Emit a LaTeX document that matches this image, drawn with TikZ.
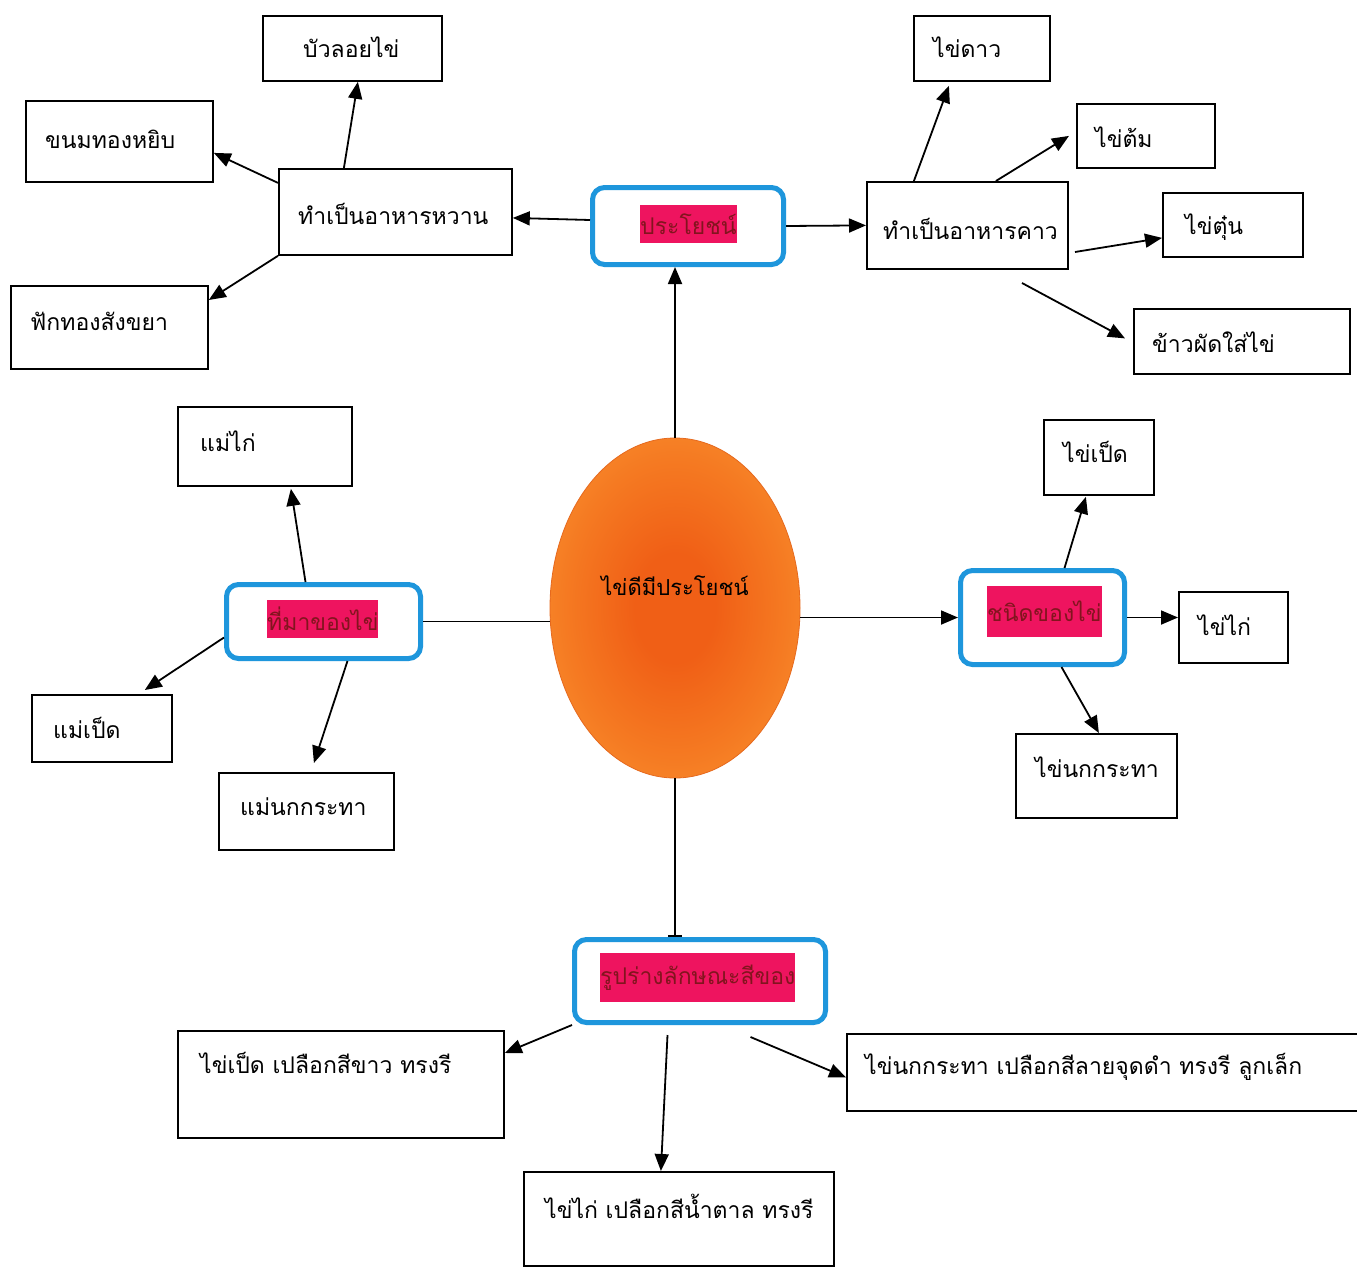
\documentclass[tikz,border=0pt]{standalone}
\usepackage{fontspec}
\newfontfamily\thai[Script=Thai]{Loma}
\usetikzlibrary{arrows.meta,shapes.geometric}
\definecolor{bluebox}{RGB}{30,150,220}
\definecolor{pinkhl}{RGB}{238,20,95}
\definecolor{hltext}{RGB}{130,20,30}
\definecolor{eggin}{RGB}{240,95,22}
\definecolor{eggmid}{RGB}{245,122,34}
\definecolor{eggout}{RGB}{250,152,52}
\definecolor{eggedge}{RGB}{230,105,30}
\pgfdeclareradialshading{eggshade}{\pgfpoint{0bp}{0bp}}{color(0bp)=(eggin); color(8bp)=(eggin); color(22bp)=(eggmid); color(36bp)=(eggout); color(50bp)=(eggout)}
\begin{document}
\begin{tikzpicture}[x=1pt,y=-1pt,
  box/.style={draw=black, line width=1.8pt, anchor=north west, inner sep=0pt},
  txt/.style={anchor=west, inner sep=0pt, font=\thai\fontsize{23}{27}\selectfont},
  hub/.style={draw=bluebox, line width=5pt, rounded corners=12pt, anchor=north west, inner sep=0pt, fill=white},
  hl/.style={fill=pinkhl, anchor=north west, inner sep=0pt, text=hltext, font=\thai\fontsize{23}{27}\selectfont},
  arr/.style={-{Triangle[length=17pt,width=14pt]}, line width=1.8pt},
  link/.style={line width=1.8pt},
  barend/.style={-{Bar[width=14pt,line width=1.8pt]}, line width=1.8pt},
]
\useasboundingbox[fill=white] (0,0) rectangle (1357,1266);

% ---------- centre egg ----------
\node[ellipse, minimum width=250pt, minimum height=340pt, shading=eggshade, draw=eggedge, line width=0.8pt] (egg) at (675,608) {};
\node[txt, anchor=center, font=\thai\fontsize{22}{26}\selectfont] (eggt) at (675,586) {ไข่ดีมีประโยชน์};

% ---------- hubs ----------
\node[hub, minimum width=191pt, minimum height=77pt] (use) at (590,185) {};
\node[hl, minimum width=93pt, minimum height=38pt] (usehl) at (640,205) {ประโยชน์};

\node[hub, minimum width=194pt, minimum height=74pt] (src) at (224,582) {};
\node[hl, minimum width=107pt, minimum height=38pt] (srchl) at (267,600) {ที่มาของไข่};

\node[hub, minimum width=164pt, minimum height=94pt] (kind) at (958,568) {};
\node[hl, minimum width=106pt, minimum height=51pt] (kindhl) at (987,586) {ชนิดของไข่};

\node[hub, minimum width=251pt, minimum height=83pt] (shape) at (572,937) {};
\node[hl, minimum width=195pt, minimum height=49pt] (shapehl) at (600,953) {รูปร่างลักษณะสีของ};

% ---------- benefit branch ----------
\node[box, minimum width=233pt, minimum height=86pt] (wan) at (278,168) {};
\node[txt] (want) at (298,214) {ทำเป็นอาหารหวาน};
\node[box, minimum width=179pt, minimum height=65pt] (bua) at (262,15) {};
\node[txt] (buat) at (303,47) {บัวลอยไข่};
\node[box, minimum width=187pt, minimum height=81pt] (khanom) at (25,100) {};
\node[txt] (khanomt) at (45,139) {ขนมทองหยิบ};
\node[box, minimum width=197pt, minimum height=83pt] (fak) at (10,285) {};
\node[txt] (fakt) at (30,321) {ฟักทองสังขยา};

\node[box, minimum width=201pt, minimum height=87pt] (kaw) at (866,181) {};
\node[txt] (kawt) at (883,229) {ทำเป็นอาหารคาว};
\node[box, minimum width=136pt, minimum height=65pt] (dao) at (913,15) {};
\node[txt] (daot) at (933,47) {ไข่ดาว};
\node[box, minimum width=138pt, minimum height=64pt] (tom) at (1076,103) {};
\node[txt] (tomt) at (1095,137) {ไข่ต้ม};
\node[box, minimum width=140pt, minimum height=64pt] (tun) at (1162,192) {};
\node[txt] (tunt) at (1185,227) {ไข่ตุ๋น};
\node[box, minimum width=216pt, minimum height=65pt] (khaopad) at (1133,308) {};
\node[txt] (khaopadt) at (1152,342) {ข้าวผัดใส่ไข่};

% ---------- source branch ----------
\node[box, minimum width=174pt, minimum height=79pt] (maekai) at (177,406) {};
\node[txt] (maekait) at (200,441) {แม่ไก่};
\node[box, minimum width=140pt, minimum height=67pt] (maepet) at (31,694) {};
\node[txt] (maepett) at (53,728) {แม่เป็ด};
\node[box, minimum width=175pt, minimum height=77pt] (maenok) at (218,772) {};
\node[txt] (maenokt) at (240,807) {แม่นกกระทา};

% ---------- kind branch ----------
\node[box, minimum width=110pt, minimum height=75pt] (kaipet) at (1043,419) {};
\node[txt] (kaipett) at (1063,452) {ไข่เป็ด};
\node[box, minimum width=109pt, minimum height=71pt] (kaikai) at (1178,591) {};
\node[txt] (kaikait) at (1198,625) {ไข่ไก่};
\node[box, minimum width=161pt, minimum height=84pt] (kainok) at (1015,733) {};
\node[txt] (kainokt) at (1035,767) {ไข่นกกระทา};

% ---------- shape branch ----------
\node[box, minimum width=326pt, minimum height=107pt] (b1) at (177,1030) {};
\node[txt] (b1t) at (200,1063) {ไข่เป็ด เปลือกสีขาว ทรงรี};
\node[box, minimum width=310pt, minimum height=94pt] (b2) at (523,1171) {};
\node[txt] (b2t) at (545,1206) {ไข่ไก่ เปลือกสีน้ำตาล ทรงรี};
\node[box, minimum width=515pt, minimum height=77pt] (b3) at (846,1033) {};
\node[txt] (b3t) at (865,1067) {ไข่นกกระทา เปลือกสีลายจุดดำ ทรงรี ลูกเล็ก};

% ---------- free connector starts ----------
\coordinate (kawtun) at (1075,252);
\coordinate (kawpad) at (1022,283);

% ---------- connectors ----------
\draw[arr] (egg.north) -- (egg.north |- use.south);
\draw[arr] ([yshift=6pt]use.west) -- ([yshift=-6pt]wan.east);
\draw[arr] (use.east) -- (kaw.west);

\draw[arr] ([xshift=-51.5pt]wan.north) -- ([xshift=5.5pt]bua.south);
\draw[arr] ([yshift=29pt]wan.west) -- ([yshift=-11.5pt]khanom.east);
\draw[arr] (wan.south west) -- ([yshift=-15pt]fak.north east);

\draw[arr] ([xshift=-53.5pt]kaw.north) -- ([xshift=-33pt,yshift=-4pt]dao.south);
\draw[arr] ([xshift=28.5pt]kaw.north) -- ([xshift=-7pt]tom.west);
\draw[arr] (kawtun) -- ([yshift=-13pt]tun.west);
\draw[arr] (kawpad) -- ([xshift=-8pt,yshift=3pt]khaopad.west);

\draw[link] (src.east) -- (src.east -| egg.west);
\draw[arr] ([xshift=-18pt]src.north) -- ([xshift=26pt,yshift=-2pt]maekai.south);
\draw[arr] ([yshift=-16pt]src.west) -- ([xshift=-28pt,yshift=4pt]maepet.north east);
\draw[arr] ([xshift=24pt]src.south) -- ([xshift=7.5pt,yshift=9pt]maenok.north);

\draw[arr] (egg.east |- kind.west) -- (kind.west);
\draw[arr] ([xshift=22pt]kind.north) -- ([xshift=-13pt,yshift=-1pt]kaipet.south);
\draw[arr] (kind.east) -- (kind.east -| kaikai.west);
\draw[arr] ([xshift=19pt]kind.south) -- ([xshift=2.5pt]kainok.north);

\draw[barend] (egg.south) -- (egg.south |- shape.north);
\draw[arr] (shape.south west) -- ([yshift=-23pt]b1.north east);
\draw[arr] ([xshift=-32.5pt,yshift=-10pt]shape.south) -- ([xshift=-18pt]b2.north);
\draw[arr] ([xshift=50.5pt,yshift=-12pt]shape.south) -- ([yshift=-5pt]b3.west);
\end{tikzpicture}
\end{document}
